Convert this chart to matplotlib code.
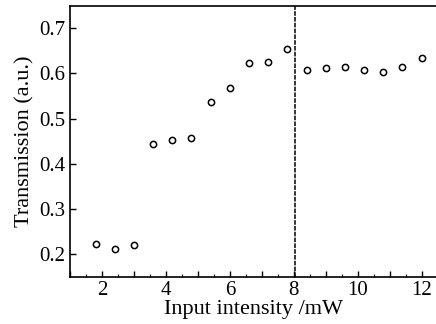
import matplotlib
matplotlib.use("Agg")
import matplotlib.pyplot as plt
from matplotlib.ticker import MultipleLocator, FuncFormatter

x_vals = [1.8, 2.4, 3.0, 3.6, 4.2, 4.8, 5.4, 6.0, 6.6, 7.2, 7.8,
          8.4, 9.0, 9.6, 10.2, 10.8, 11.4, 12.0]
y_vals = [0.222, 0.211, 0.220, 0.445, 0.452, 0.458, 0.537, 0.567, 0.622, 0.625, 0.654,
          0.608, 0.611, 0.615, 0.608, 0.602, 0.614, 0.633]
threshold = 8.05
y_ticks = [0.2, 0.3, 0.4, 0.5, 0.6, 0.7]

plt.rcParams['font.family'] = ['Liberation Serif', 'DejaVu Serif']
fig = plt.figure(figsize=(4.36, 3.24), dpi=100)
ax = fig.add_axes([0.1606, 0.145, 0.8394, 0.838])

ax.plot(x_vals, y_vals, linestyle='none', marker='o', markersize=4.5,
        markerfacecolor='white', markeredgecolor='black', markeredgewidth=1.1)
ax.axvline(threshold, color='black', linestyle=(0, (3, 0.8)), linewidth=1.1)

ax.set_xlim(1, 12.45)
ax.set_ylim(0.15, 0.75)
ax.xaxis.set_major_locator(MultipleLocator(1))
ax.xaxis.set_major_formatter(FuncFormatter(lambda v, p: f"{int(round(v))}" if int(round(v)) % 2 == 0 else ""))
ax.xaxis.set_minor_locator(MultipleLocator(0.5))
ax.set_yticks(y_ticks)
ax.set_yticklabels([f"{v:.1f}" for v in y_ticks])

for s in ['left', 'bottom', 'top']:
    ax.spines[s].set_linewidth(1.2)
ax.spines['right'].set_visible(False)

ax.tick_params(axis='both', which='major', direction='in', length=4, width=1,
               labelsize=15, top=False, right=False)
ax.tick_params(axis='x', which='minor', direction='in', length=2.5, width=0.8, top=False)
ax.tick_params(axis='x', which='major', pad=3)

ax.set_xlabel('Input intensity /mW', fontsize=16, labelpad=0)
ax.set_ylabel('Transmission (a.u.)', fontsize=16, labelpad=3)

fig.savefig('out.png', dpi=100)
